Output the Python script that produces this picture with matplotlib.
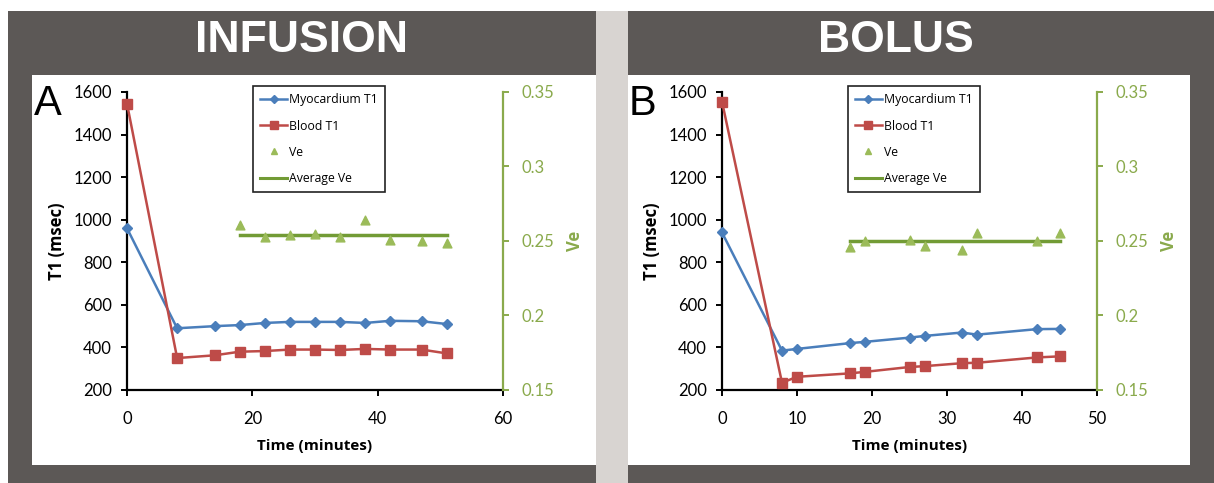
import numpy as np
import matplotlib
matplotlib.use("Agg")
import matplotlib.pyplot as plt
from matplotlib.patches import Rectangle
from matplotlib.lines import Line2D

# ---- data ----
infusion_time = [0, 8, 14, 18, 22, 26, 30, 34, 38, 42, 47, 51]
infusion_myo = [960, 490, 500, 505, 515, 520, 520, 520, 515, 525, 523, 510]
infusion_blood = [1545, 350, 363, 380, 383, 390, 390, 388, 393, 390, 390, 372]
infusion_ve_time = [18, 22, 26, 30, 34, 38, 42, 47, 51]
infusion_ve = [0.261, 0.2525, 0.254, 0.2545, 0.253, 0.264, 0.251, 0.250, 0.2485]

bolus_time = [0, 8, 10, 17, 19, 25, 27, 32, 34, 42, 45]
bolus_myo = [940, 385, 393, 420, 426, 446, 454, 470, 460, 486, 487]
bolus_blood = [1555, 234, 262, 278, 285, 308, 312, 326, 328, 353, 358]
bolus_ve_time = [17, 19, 25, 27, 32, 34, 42, 45]
bolus_ve = [0.2458, 0.250, 0.2507, 0.2466, 0.2439, 0.2551, 0.2502, 0.2556]

t1_ticks = [200, 400, 600, 800, 1000, 1200, 1400, 1600]
ve_ticks = [0.15, 0.2, 0.25, 0.3, 0.35]
ve_tick_labels = ["0.15", "0.2", "0.25", "0.3", "0.35"]

BLUE = "#4a7ebb"
RED = "#be4b48"
GREEN_MK = "#9bbb59"
GREEN_LN = "#729b35"
GREEN_AX = "#8aaa4c"
DARK = "#5c5856"
SEP = "#d8d4d1"

W, H = 1214, 483
fig = plt.figure(figsize=(W / 100, H / 100), dpi=100)
fig.patch.set_facecolor("white")


def rect(x0, y0, x1, y1, color):
    fig.patches.append(Rectangle((x0 / W, 1 - y1 / H), (x1 - x0) / W, (y1 - y0) / H,
                                 transform=fig.transFigure, facecolor=color,
                                 edgecolor="none", zorder=-10))


# background blocks
rect(8, 11, 596, 483, DARK)
rect(596, 11, 628, 483, SEP)
rect(628, 11, 1214, 483, DARK)
rect(32, 75, 596, 465, "white")
rect(628, 75, 1190, 465, "white")


def draw_panel(left, right, letter, title, title_x, time, myo, blood,
               ve_time, ve, xmax, xstep):
    top, bottom = 92, 390
    ax = fig.add_axes([left / W, 1 - bottom / H, (right - left) / W, (bottom - top) / H])
    ax.patch.set_alpha(0)
    ax.plot(time, myo, color=BLUE, lw=1.8, marker="D", ms=5.5, clip_on=False,
            label="Myocardium T1", zorder=3)
    ax.plot(time, blood, color=RED, lw=1.8, marker="s", ms=6.5, clip_on=False,
            label="Blood T1", zorder=3)
    ax.set_xlim(0, xmax)
    ax.set_ylim(200, 1600)
    ax.set_xticks(np.arange(0, xmax + 1, xstep))
    ax.set_yticks(t1_ticks)
    for s in ["top", "right"]:
        ax.spines[s].set_visible(False)
    for s in ["left", "bottom"]:
        ax.spines[s].set_linewidth(1.6)
        ax.spines[s].set_color("black")
    ax.tick_params(axis="y", length=4, width=1.4, pad=7, labelsize=12)
    ax.tick_params(axis="x", length=4, width=1.4, pad=11, labelsize=12)
    for lab in ax.get_xticklabels() + ax.get_yticklabels():
        lab.set_family("Lato")
    ax.set_ylabel("T1 (msec)", fontsize=12, fontweight="bold", family="Open Sans", labelpad=5)
    ax.set_xlabel("Time (minutes)", fontsize=11, fontweight="bold", family="Open Sans", labelpad=9)

    ax2 = ax.twinx()
    ax2.scatter(ve_time, ve, marker="^", s=40, color=GREEN_MK, zorder=4, clip_on=False,
                label="Ve")
    avg = np.mean(ve)
    ax2.plot([ve_time[0], ve_time[-1]], [avg, avg], color=GREEN_LN, lw=2.5,
             label="Average Ve", zorder=3)
    ax2.set_ylim(0.15, 0.35)
    ax2.set_yticks(ve_ticks)
    ax2.set_yticklabels(ve_tick_labels)
    for s in ["top", "left", "bottom"]:
        ax2.spines[s].set_visible(False)
    ax2.spines["right"].set_color(GREEN_AX)
    ax2.spines["right"].set_linewidth(1.6)
    ax2.tick_params(axis="y", length=4, width=1.4, pad=9, labelsize=12,
                    colors=GREEN_AX)
    for lab in ax2.get_yticklabels():
        lab.set_family("Lato")
    ax2.set_ylabel("Ve", fontsize=12, fontweight="bold", family="Open Sans",
                   color=GREEN_AX, labelpad=9)

    handles = [
        Line2D([], [], color=BLUE, lw=1.8, marker="D", ms=4),
        Line2D([], [], color=RED, lw=1.8, marker="s", ms=5.5),
        Line2D([], [], color=GREEN_MK, lw=0, marker="^", ms=5),
        Line2D([], [], color=GREEN_LN, lw=2.2),
    ]
    leg = ax2.legend(handles, ["Myocardium T1", "Blood T1", "Ve", "Average Ve"],
                     loc="upper left", bbox_to_anchor=(0.335, 1.02),
                     prop={"family": "Open Sans", "size": 8.8}, frameon=True, fancybox=False,
                     edgecolor="#222222", framealpha=1, borderpad=0.6,
                     labelspacing=1.08, handlelength=2.2, handletextpad=0.15,
                     borderaxespad=0)
    leg.get_frame().set_linewidth(1.2)

    fig.text(title_x / W, 1 - 40 / H, title, ha="center", va="center",
             color="white", fontsize=32, fontweight="bold", family="Liberation Sans")
    fig.text((left - 93) / W, 1 - 104 / H, letter, ha="left", va="center",
             color="black", fontsize=30, family="Liberation Sans")


draw_panel(127, 503, "A", "INFUSION", 302, infusion_time, infusion_myo, infusion_blood,
           infusion_ve_time, infusion_ve, 60, 20)
draw_panel(722, 1097, "B", "BOLUS", 896, bolus_time, bolus_myo, bolus_blood,
           bolus_ve_time, bolus_ve, 50, 10)

fig.savefig("out.png", dpi=100)
